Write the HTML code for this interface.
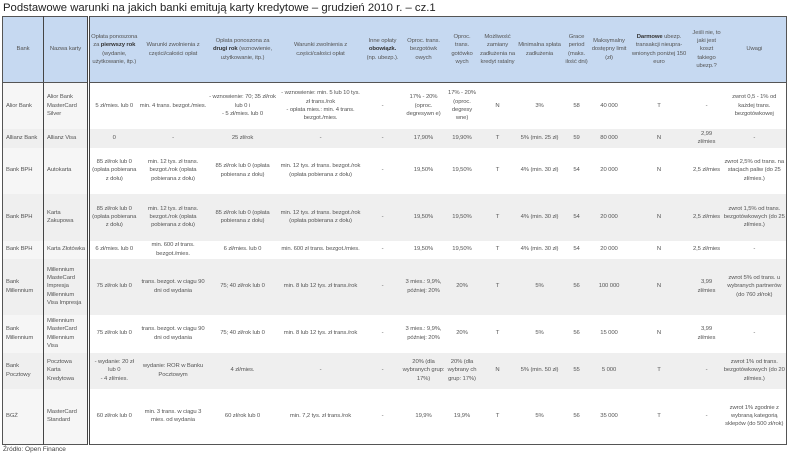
<!DOCTYPE html>
<html><head><meta charset="utf-8">
<style>
body{margin:0;width:788px;height:461px;background:#fff;font-family:"Liberation Sans",sans-serif;overflow:hidden;position:relative}
.title{position:absolute;left:3px;top:2px;font-size:11.3px;color:#222;white-space:nowrap}
table{position:absolute;left:2px;top:16px;border-collapse:collapse;table-layout:fixed;width:784px;border:1.5px solid #555}
td{font-size:5.9px;line-height:8.2px;color:#555;text-align:center;vertical-align:middle;padding:0 1px;overflow:hidden;letter-spacing:-0.1px}
thead td{background:#c6d9f1;border-bottom:1.5px solid #555}
td.l{text-align:left;padding-left:3px}
td.c1{border-right:1.5px solid #444}
td.c2{border-right:3px double #444}
tr.g td{background:#efefef}
tr.w td.l{background:#f6f6f6}
.src{position:absolute;left:3px;top:446px;font-size:6.5px;color:#444}
b{color:#333}
</style></head><body>
<div class="title">Podstawowe warunki na jakich banki emitują karty kredytowe – grudzień 2010 r. – cz.1</div>
<table>
<colgroup><col style="width:41px"><col style="width:45px"><col style="width:50px"><col style="width:69px"><col style="width:70px"><col style="width:86px"><col style="width:38px"><col style="width:44px"><col style="width:33px"><col style="width:38px"><col style="width:46px"><col style="width:28px"><col style="width:37px"><col style="width:63px"><col style="width:32px"><col style="width:64px"></colgroup>
<thead><tr style="height:66px">
<td class="c1">Bank</td><td class="c2">Nazwa karty</td><td>Opłata ponoszona za <b>pierwszy rok</b> (wydanie, użytkowanie, itp.)</td><td>Warunki zwolnienia z części/całości opłat</td><td>Opłata ponoszona za <b>drugi rok</b> (wznowienie, użytkowanie, itp.)</td><td>Warunki zwolnienia z części/całości opłat</td><td>Inne opłaty <b>obowiązk.</b> (np. ubezp.).</td><td>Oproc. trans. bezgotówk owych</td><td>Oproc. trans. gotówko wych</td><td>Możliwość zamiany zadłużenia na kredyt ratalny</td><td>Minimalna spłata zadłużenia</td><td>Grace period (maks. ilość dni)</td><td>Maksymalny dostępny limit (zł)</td><td><b>Darmowe</b> ubezp. transakcji nieupra-wnionych poniżej 150 euro</td><td>Jeśli nie, to jaki jest koszt takiego ubezp.?</td><td>Uwagi</td></tr></thead>
<tbody>
<tr class="w" style="height:46px"><td class="l c1">Alior Bank</td><td class="l c2">Alior Bank MasterCard Silver</td><td>5 zł/mies. lub 0</td><td>min. 4 trans. bezgot./mies.</td><td>- wznowienie: 70; 35 zł/rok lub 0 i<br>- 5 zł/mies. lub 0</td><td>- wznowienie: min. 5 lub 10 tys. zł trans./rok<br>- opłata mies.: min. 4 trans. bezgot./mies.</td><td>-</td><td>17% - 20% (oproc. degresywn e)</td><td>17% - 20% (oproc. degresy wne)</td><td>N</td><td>3%</td><td>58</td><td>40 000</td><td>T</td><td>-</td><td>zwrot 0,5 - 1% od każdej trans. bezgotówkowej</td></tr>
<tr class="g" style="height:19px"><td class="l c1">Allianz Bank</td><td class="l c2">Allianz Visa</td><td>0</td><td>-</td><td>25 zł/rok</td><td>-</td><td>-</td><td>17,90%</td><td>19,90%</td><td>T</td><td>5% (min. 25 zł)</td><td>59</td><td>80 000</td><td>N</td><td>2,99 zł/mies</td><td>-</td></tr>
<tr class="w" style="height:46px"><td class="l c1">Bank BPH</td><td class="l c2">Autokarta</td><td>85 zł/rok lub 0<br>(opłata pobierana z dołu)</td><td>min. 12 tys. zł trans. bezgot./rok (opłata pobierana z dołu)</td><td>85 zł/rok lub 0 (opłata pobierana z dołu)</td><td>min. 12 tys. zł trans. bezgot./rok<br>(opłata pobierana z dołu)</td><td>-</td><td>19,50%</td><td>19,50%</td><td>T</td><td>4% (min. 30 zł)</td><td>54</td><td>20 000</td><td>N</td><td>2,5 zł/mies</td><td>zwrot 2,5% od trans. na stacjach paliw (do 25 zł/mies.)</td></tr>
<tr class="g" style="height:47px"><td class="l c1">Bank BPH</td><td class="l c2">Karta Zakupowa</td><td>85 zł/rok lub 0<br>(opłata pobierana z dołu)</td><td>min. 12 tys. zł trans. bezgot./rok (opłata pobierana z dołu)</td><td>85 zł/rok lub 0 (opłata pobierana z dołu)</td><td>min. 12 tys. zł trans. bezgot./rok<br>(opłata pobierana z dołu)</td><td>-</td><td>19,50%</td><td>19,50%</td><td>T</td><td>4% (min. 30 zł)</td><td>54</td><td>20 000</td><td>N</td><td>2,5 zł/mies</td><td>zwrot 1,5% od trans. bezgotówkowych (do 25 zł/mies.)</td></tr>
<tr class="w" style="height:18px"><td class="l c1">Bank BPH</td><td class="l c2">Karta Złotówka</td><td>6 zł/mies. lub 0</td><td>min. 600 zł trans. bezgot./mies.</td><td>6 zł/mies. lub 0</td><td>min. 600 zł trans. bezgot./mies.</td><td>-</td><td>19,50%</td><td>19,50%</td><td>T</td><td>4% (min. 30 zł)</td><td>54</td><td>20 000</td><td>N</td><td>2,5 zł/mies</td><td>-</td></tr>
<tr class="g" style="height:56px"><td class="l c1">Bank Millennium</td><td class="l c2">Millennium MasteCard Impresja Millennium Visa Impresja</td><td>75 zł/rok lub 0</td><td>trans. bezgot. w ciągu 90 dni od wydania</td><td>75; 40 zł/rok lub 0</td><td>min. 8 lub 12 tys. zł trans./rok</td><td>-</td><td>3 mies.: 9,9%, później: 20%</td><td>20%</td><td>T</td><td>5%</td><td>56</td><td>100 000</td><td>N</td><td>3,99 zł/mies</td><td>zwrot 5% od trans. u wybranych partnerów (do 760 zł/rok)</td></tr>
<tr class="w" style="height:38px"><td class="l c1">Bank Millennium</td><td class="l c2">Millennium MasterCard Millennium Visa</td><td>75 zł/rok lub 0</td><td>trans. bezgot. w ciągu 90 dni od wydania</td><td>75; 40 zł/rok lub 0</td><td>min. 8 lub 12 tys. zł trans./rok</td><td>-</td><td>3 mies.: 9,9%, później: 20%</td><td>20%</td><td>T</td><td>5%</td><td>56</td><td>15 000</td><td>N</td><td>3,99 zł/mies</td><td>-</td></tr>
<tr class="g" style="height:36px"><td class="l c1">Bank Pocztowy</td><td class="l c2">Pocztowa Karta Kredytowa</td><td>- wydanie: 20 zł lub 0<br>- 4 zł/mies.</td><td>wydanie: ROR w Banku Pocztowym</td><td>4 zł/mies.</td><td>-</td><td>-</td><td>20% (dla wybranych grup: 17%)</td><td>20% (dla wybrany ch grup: 17%)</td><td>N</td><td>5% (min. 50 zł)</td><td>55</td><td>5 000</td><td>T</td><td>-</td><td>zwrot 1% od trans. bezgotówkowych (do 20 zł/mies.)</td></tr>
<tr class="w" style="height:56px"><td class="l c1">BGŻ</td><td class="l c2">MasterCard Standard</td><td>60 zł/rok lub 0</td><td>min. 3 trans. w ciągu 3 mies. od wydania</td><td>60 zł/rok lub 0</td><td>min. 7,2 tys. zł trans./rok</td><td>-</td><td>19,9%</td><td>19,9%</td><td>T</td><td>5%</td><td>56</td><td>35 000</td><td>T</td><td>-</td><td>zwrot 1% zgodnie z wybraną kategorią sklepów (do 500 zł/rok)</td></tr>
</tbody></table>
<div class="src">Źródło: Open Finance</div>
</body></html>
